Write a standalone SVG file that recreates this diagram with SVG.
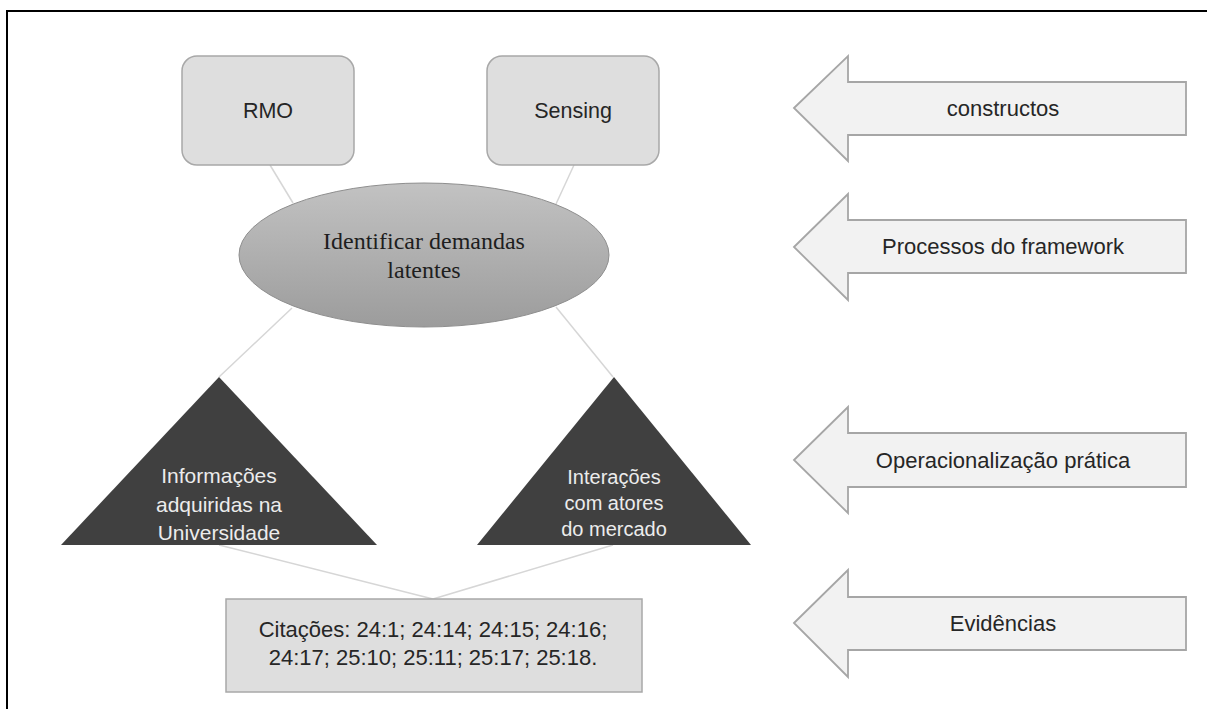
<svg xmlns="http://www.w3.org/2000/svg" width="1207" height="709" viewBox="0 0 1207 709">
<style>
.box{fill:#dedede;stroke:#a8a8a8;stroke-width:1.5}
.arrow{fill:#f2f2f2;stroke:#a6a6a6;stroke-width:1.8}
.tri{fill:#404040;stroke:none}
.conn{stroke:#d6d6d6;stroke-width:1.5;fill:none}
.sans{font-family:"Liberation Sans",Arial,sans-serif;fill:#262626;text-anchor:middle}
.serif{font-family:"Liberation Serif","Times New Roman",serif;fill:#1e1e1e;text-anchor:middle;font-size:24px}
.light{font-family:"Liberation Sans",Arial,sans-serif;fill:#ececec;text-anchor:middle}
</style>
<defs>
<linearGradient id="ellG" x1="0" y1="0" x2="0" y2="1">
<stop offset="0" stop-color="#c2c2c2"/>
<stop offset="1" stop-color="#9c9c9c"/>
</linearGradient>
</defs>
<rect x="0" y="0" width="1207" height="709" fill="#ffffff"/>
<path d="M7,709 L7,11 L1207,11" fill="none" stroke="#000" stroke-width="2"/>

<g id="connectors">
<line class="conn" x1="270" y1="165" x2="293" y2="203"/>
<line class="conn" x1="574" y1="165" x2="556" y2="204"/>
<line class="conn" x1="292" y1="308" x2="219" y2="377"/>
<line class="conn" x1="556" y1="307" x2="613" y2="377"/>
<line class="conn" x1="219" y1="545" x2="433" y2="599"/>
<line class="conn" x1="613" y1="545" x2="433" y2="599"/>
</g>

<g id="rmo">
<rect class="box" x="182" y="56" width="172" height="109" rx="15"/>
<text class="sans" x="268" y="118" font-size="21.5">RMO</text>
</g>
<g id="sensing">
<rect class="box" x="487" y="56" width="172" height="109" rx="15"/>
<text class="sans" x="573" y="118" font-size="21.5">Sensing</text>
</g>

<g id="identificar">
<ellipse cx="424" cy="255" rx="185" ry="72" fill="url(#ellG)" stroke="#8e8e8e" stroke-width="1"/>
<text class="serif" x="424" y="249">Identificar demandas</text>
<text class="serif" x="424" y="278">latentes</text>
</g>

<g id="informacoes">
<polygon class="tri" points="219,377 377,545 61,545"/>
<text class="light" x="219" y="483" font-size="21">Informações</text>
<text class="light" x="219" y="512" font-size="21">adquiridas na</text>
<text class="light" x="219" y="540" font-size="21">Universidade</text>
</g>

<g id="interacoes">
<polygon class="tri" points="614,377 751,545 477,545"/>
<text class="light" x="614" y="484" font-size="20">Interações</text>
<text class="light" x="614" y="510" font-size="20">com atores</text>
<text class="light" x="614" y="536" font-size="20">do mercado</text>
</g>

<g id="citacoes">
<rect x="226" y="599" width="416" height="93" fill="#dedede" stroke="#a8a8a8" stroke-width="1.5"/>
<text class="sans" x="433" y="637" font-size="22">Citações: 24:1; 24:14; 24:15; 24:16;</text>
<text class="sans" x="433" y="665" font-size="22">24:17; 25:10; 25:11; 25:17; 25:18.</text>
</g>

<g id="arrow-constructos">
<polygon class="arrow" points="794,108 848,56 848,82 1186,82 1186,135 848,135 848,161"/>
<text class="sans" x="1003" y="116" font-size="22">constructos</text>
</g>
<g id="arrow-processos">
<polygon class="arrow" points="794,247 848,194 848,220 1186,220 1186,273 848,273 848,300"/>
<text class="sans" x="1003" y="254" font-size="22">Processos do framework</text>
</g>
<g id="arrow-operacionalizacao">
<polygon class="arrow" points="794,460 848,407 848,433 1186,433 1186,487 848,487 848,513"/>
<text class="sans" x="1003" y="468" font-size="22">Operacionalização prática</text>
</g>
<g id="arrow-evidencias">
<polygon class="arrow" points="794,623 848,570 848,597 1186,597 1186,650 848,650 848,677"/>
<text class="sans" x="1003" y="631" font-size="22">Evidências</text>
</g>
</svg>
